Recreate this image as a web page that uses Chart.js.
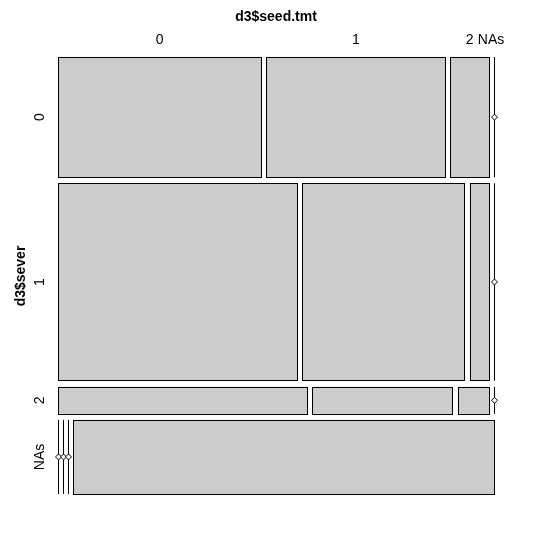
<!DOCTYPE html>
<html><head><meta charset="utf-8">
<script src="https://cdn.jsdelivr.net/npm/chart.js@4"></script>
<style>body{margin:0;background:#fff}#w{width:553px;height:552px}</style>
</head><body><div id="w"><canvas id="c"></canvas></div>
<script>
const colLabels = ["0","1","2","NAs"];
const rowLabels = ["0","1","2","NAs"];
const row0 = [58, 51, 11, 0];
const row1 = [112, 76, 9, 0];
const row2 = [16, 9, 2, 0];
const rowNA = [0, 0, 0, 74];
const counts = [row0, row1, row2, rowNA];
const xTitle = "d3$seed.tmt", yTitle = "d3$sever";

const gx = 5/436, gy = 6/437;
function layout(){
  const tot = counts.flat().reduce((a,b)=>a+b,0);
  const availY = 1 - gy*(counts.length-1);
  let y = 0; const cells = [];
  counts.forEach((row,i)=>{
    const rt = row.reduce((a,b)=>a+b,0);
    const h = availY*rt/tot;
    const availX = 1 - gx*(row.length-1);
    let x = 0;
    row.forEach((v,j)=>{
      const w = availX*v/rt;
      cells.push({i,j,x0:x,x1:x+w,y0:y,y1:y+h,v});
      x += w + gx;
    });
    y += h + gy;
  });
  return cells;
}
const mosaic = {
  id:'mosaic',
  afterDraw(chart){
    const ctx = chart.ctx, sx = chart.scales.x, sy = chart.scales.y;
    const cells = layout();
    ctx.save();
    ctx.strokeStyle = '#000'; ctx.lineWidth = 1;
    cells.forEach(c=>{
      const X0 = sx.getPixelForValue(c.x0), X1 = sx.getPixelForValue(c.x1);
      const Y0 = sy.getPixelForValue(c.y0), Y1 = sy.getPixelForValue(c.y1);
      if (c.v > 0){
        ctx.fillStyle = '#cccccc';
        ctx.fillRect(X0, Y0, X1-X0, Y1-Y0);
        ctx.strokeRect(Math.round(X0)+0.5, Math.round(Y0)+0.5, Math.round(X1-X0), Math.round(Y1-Y0));
      } else {
        const X = Math.round(X0)+0.5, M = (Y0+Y1)/2;
        ctx.beginPath(); ctx.moveTo(X, Y0); ctx.lineTo(X, Y1); ctx.stroke();
        ctx.fillStyle = '#fff';
        ctx.beginPath(); ctx.moveTo(X, M-3); ctx.lineTo(X+3, M); ctx.lineTo(X, M+3); ctx.lineTo(X-3, M); ctx.closePath();
        ctx.fill(); ctx.stroke();
      }
    });
    ctx.fillStyle = '#000';
    ctx.font = '14px "Liberation Sans", Arial, sans-serif';
    ctx.textAlign = 'center'; ctx.textBaseline = 'middle';
    cells.filter(c=>c.i===0).forEach(c=>{
      let cx = sx.getPixelForValue((c.x0+c.x1)/2);
      if (c.v===0) cx -= 3;
      ctx.fillText(colLabels[c.j], cx, 40);
    });
    cells.filter(c=>c.j===0).forEach(c=>{
      const cy = sy.getPixelForValue((c.y0+c.y1)/2);
      ctx.save(); ctx.translate(40, cy); ctx.rotate(-Math.PI/2);
      ctx.fillText(rowLabels[c.i], 0, 0); ctx.restore();
    });
    ctx.font = 'bold 14px "Liberation Sans", Arial, sans-serif';
    ctx.fillText(xTitle, 276, 17);
    ctx.save(); ctx.translate(21, 276); ctx.rotate(-Math.PI/2); ctx.fillText(yTitle, 0, 0); ctx.restore();
    ctx.restore();
  }
};
new Chart(document.getElementById('c'), {
  type:'scatter',
  data:{datasets:[{data:[]}]},
  options:{
    responsive:true, maintainAspectRatio:false, animation:false,
    layout:{padding:{left:58,right:59,top:57,bottom:58}},
    plugins:{legend:{display:false},tooltip:{enabled:false}},
    scales:{
      x:{type:'linear',min:0,max:1,display:false},
      y:{type:'linear',min:0,max:1,reverse:true,display:false}
    }
  },
  plugins:[mosaic]
});
</script></body></html>
